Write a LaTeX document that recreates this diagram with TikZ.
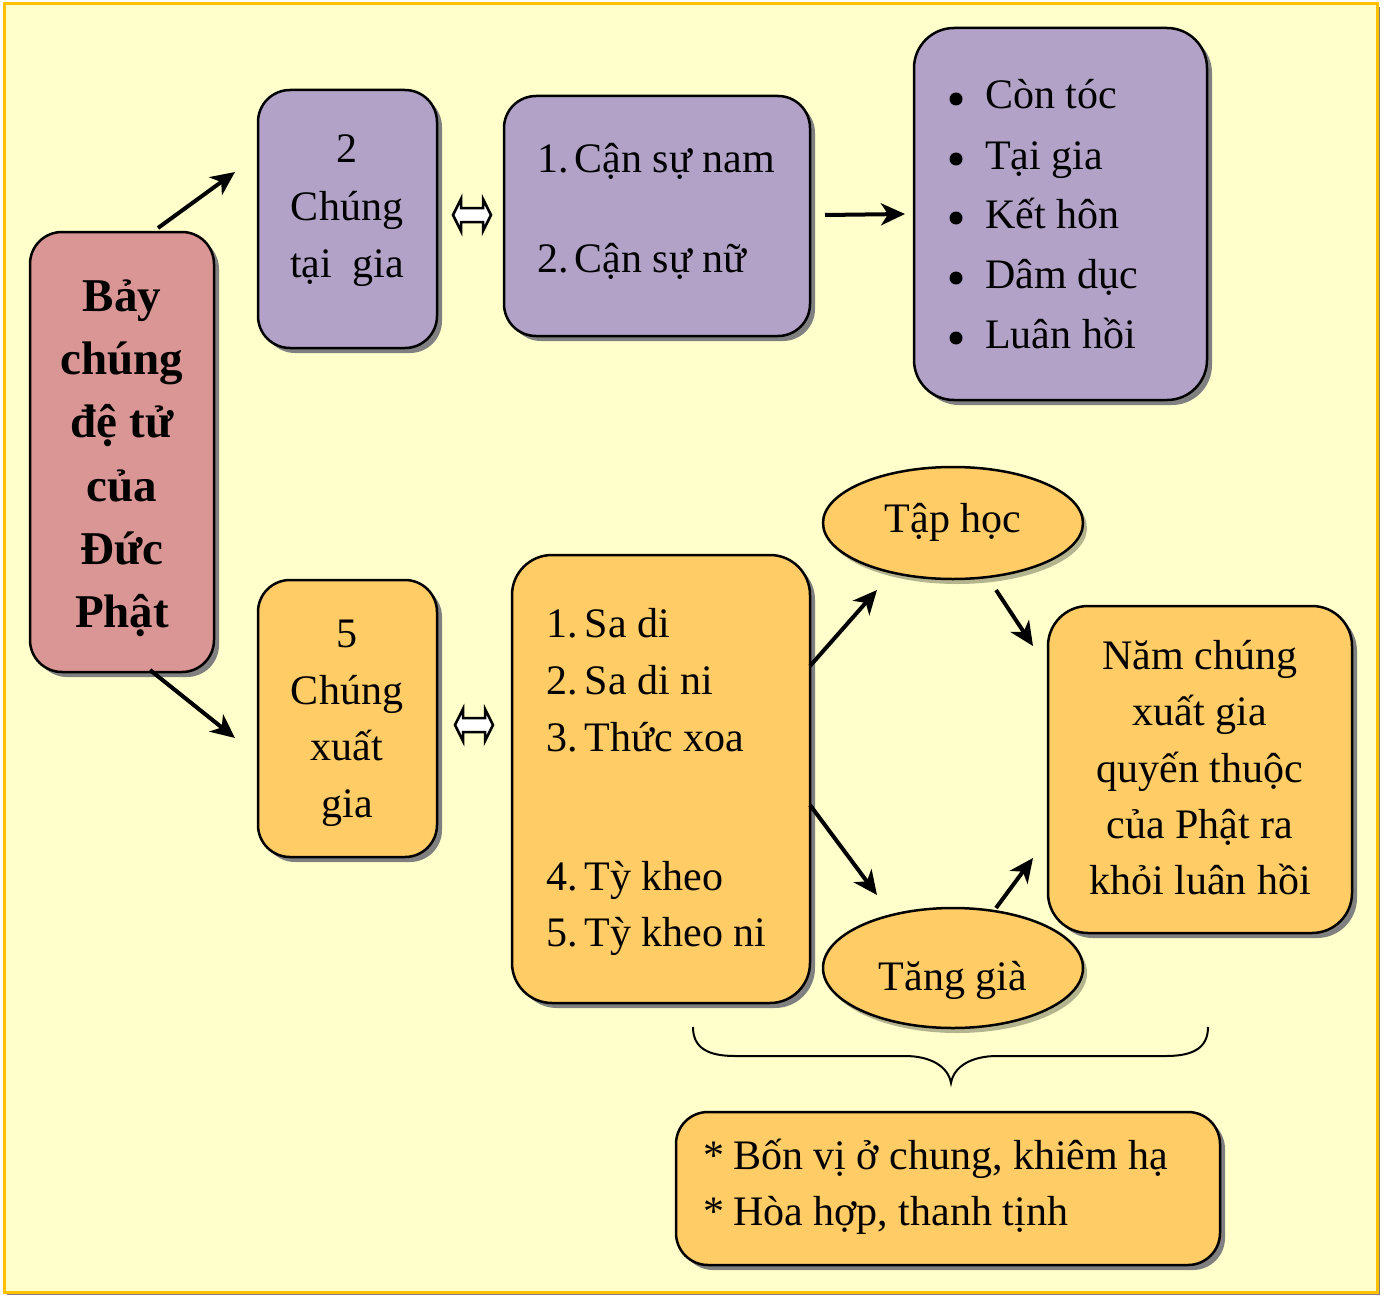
\documentclass[tikz,border=0pt]{standalone}
\usepackage{fontspec}
\setmainfont{Liberation Serif}
\usetikzlibrary{arrows.meta,shadows,shapes.geometric}
\definecolor{bgyellow}{HTML}{FFFFCC}
\definecolor{framecol}{HTML}{FFC000}
\definecolor{redbox}{HTML}{D99694}
\definecolor{purplebox}{HTML}{B2A2C7}
\definecolor{orangebox}{HTML}{FFCC66}
\definecolor{shadowgray}{HTML}{808080}
\definecolor{ellshadow}{HTML}{B4B48E}
\begin{document}
\begin{tikzpicture}[x=1pt,y=-1pt,
  box/.style={draw=black, line width=2.5pt, rounded corners=32pt, inner sep=0pt,
    drop shadow={shadow xshift=5pt, shadow yshift=-5pt, fill=shadowgray, opacity=1}},
  ell/.style={draw=black, line width=2.5pt, ellipse, inner sep=0pt, fill=orangebox,
    drop shadow={shadow xshift=4pt, shadow yshift=-5pt, fill=ellshadow, opacity=1}},
  txt/.style={anchor=base, inner sep=0pt, font=\fontsize{42}{50}\selectfont},
  txtl/.style={anchor=base west, inner sep=0pt, font=\fontsize{42}{50}\selectfont},
  btxt/.style={anchor=base, inner sep=0pt, font=\fontsize{47}{55}\selectfont\bfseries},
  bulletdot/.style={circle, fill=black, inner sep=0pt, minimum size=13pt},
  arr/.style={line width=4pt, -{Stealth[length=24pt,width=22pt,inset=7pt]}},
  dbl/.style={draw=black, fill=white, line width=2.5pt, line join=miter}
]
\useasboundingbox (0,0) rectangle (1384,1295);
% frame
\fill[shadowgray] (7,7) rectangle (1380,1295);
\draw[fill=bgyellow, draw=framecol, line width=3pt] (4,4) rectangle (1377,1292);

% boxes
\node[box, fill=redbox, minimum width=184pt, minimum height=440pt] (bay) at (122,452) {};
\node[box, fill=purplebox, minimum width=179pt, minimum height=258pt] (tai) at (347.5,219) {};
\node[box, fill=purplebox, minimum width=306pt, minimum height=240pt] (can) at (657,216) {};
\node[box, fill=purplebox, minimum width=293pt, minimum height=372pt, rounded corners=40pt] (dac) at (1060.5,214) {};
\node[box, fill=orangebox, minimum width=179pt, minimum height=277pt] (xuat) at (347.5,718.5) {};
\node[box, fill=orangebox, minimum width=298pt, minimum height=448pt, rounded corners=40pt] (sadi) at (661,779) {};
\node[box, fill=orangebox, minimum width=304pt, minimum height=327pt, rounded corners=40pt] (nam) at (1200,769.5) {};
\node[box, fill=orangebox, minimum width=544pt, minimum height=153pt] (bon) at (948,1188.5) {};
\node[ell, minimum width=260pt, minimum height=112pt] (taphoc) at (953,523) {};
\node[ell, minimum width=260pt, minimum height=120pt] (tanggia) at (953,968) {};

% texts: red box
\node[btxt] (b1) at (122,311) {Bảy};
\node[btxt] (b2) at (122,374) {chúng};
\node[btxt] (b3) at (122,437) {đệ tử};
\node[btxt] (b4) at (122,501) {của};
\node[btxt] (b5) at (122,564) {Đức};
\node[btxt] (b6) at (122,627) {Phật};
% tai gia
\node[txt] (t1) at (347,162) {2};
\node[txt] (t2) at (347,220) {Chúng};
\node[txt] (t3) at (347,277) {tại\hspace{10pt} gia};
% can su
\node[txtl] (c1) at (537,172) {1.\hspace{6pt}Cận sự nam};
\node[txtl] (c2) at (537,272) {2.\hspace{6pt}Cận sự nữ};
% list
\foreach \yy/\ww [count=\i] in {109/Còn tóc, 169/Tại gia, 228/Kết hôn, 288/Dâm dục, 348/Luân hồi}{
  \node[bulletdot] (bu\i) at (956,\yy-10) {};
  \node[txtl] (l\i) at (985,\yy) {\ww};
}
% xuat gia
\node[txt] (x1) at (347,647) {5};
\node[txt] (x2) at (347,704) {Chúng};
\node[txt] (x3) at (347,760) {xuất};
\node[txt] (x4) at (347,817) {gia};
% sa di list
\node[txtl] (s1) at (546,637) {1.\hspace{7pt}Sa di};
\node[txtl] (s2) at (546,694) {2.\hspace{7pt}Sa di ni};
\node[txtl] (s3) at (546,751) {3.\hspace{7pt}Thức xoa};
\node[txtl] (s4) at (546,890) {4.\hspace{7pt}Tỳ kheo};
\node[txtl] (s5) at (546,946) {5.\hspace{7pt}Tỳ kheo ni};
% ellipses
\node[txt] (e1) at (953,532) {Tập học};
\node[txt] (e2) at (953,990) {Tăng già};
% nam chung
\node[txt] (n1) at (1200,669) {Năm chúng};
\node[txt] (n2) at (1200,725) {xuất gia};
\node[txt] (n3) at (1200,782) {quyến thuộc};
\node[txt] (n4) at (1200,838) {của Phật ra};
\node[txt] (n5) at (1200,894) {khỏi luân hồi};
% bottom
\node[txtl] (o1) at (703,1169) {*\hspace{9pt}Bốn vị ở chung, khiêm hạ};
\node[txtl] (o2) at (703,1225) {*\hspace{9pt}Hòa hợp, thanh tịnh};

% arrows
\coordinate (a1s) at (158,228); \coordinate (a1e) at (235,172);
\coordinate (a2s) at (150,670); \coordinate (a2e) at (235,738);
\coordinate (a3s) at (825,215); \coordinate (a3e) at (905,214);
\coordinate (a4s) at (810,666); \coordinate (a4e) at (877,590);
\coordinate (a5s) at (810,805); \coordinate (a5e) at (877,895);
\coordinate (a6s) at (996,590); \coordinate (a6e) at (1033,646);
\coordinate (a7s) at (996,908); \coordinate (a7e) at (1033,858);
\draw[arr] (a1s) -- (a1e);
\draw[arr] (a2s) -- (a2e);
\draw[arr] (a3s) -- (a3e);
\draw[arr] (a4s) -- (a4e);
\draw[arr] (a5s) -- (a5e);
\draw[arr] (a6s) -- (a6e);
\draw[arr] (a7s) -- (a7e);

% double arrows
\coordinate (d1) at (472,215);
\coordinate (d2) at (474,725);
\foreach \c in {d1,d2}{
\begin{scope}[shift={(\c)}]
\draw[dbl] (-19,0) -- (-11,-16) -- (-11,-7) -- (11,-7) -- (11,-16) -- (19,0) -- (11,16) -- (11,7) -- (-11,7) -- (-11,16) -- cycle;
\end{scope}
}

% brace
\coordinate (brl) at (693,1027);
\coordinate (brr) at (1208,1027);
\coordinate (brt) at (951,1083);
\draw[line width=2pt] (brl) .. controls (693,1048) and (708,1056) .. (735,1056) -- (905,1056)
  .. controls (930,1056) and (948,1066) .. (brt)
  .. controls (954,1066) and (972,1056) .. (997,1056) -- (1166,1056)
  .. controls (1193,1056) and (1208,1048) .. (brr);
\end{tikzpicture}
\end{document}
